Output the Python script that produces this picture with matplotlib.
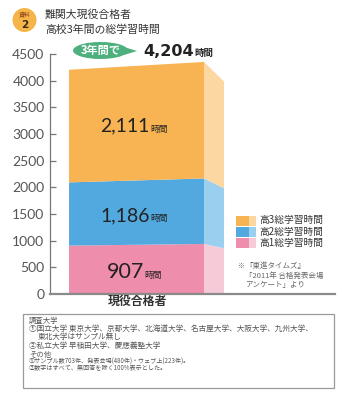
import matplotlib
matplotlib.use("Agg")
import matplotlib.pyplot as plt
from matplotlib.patches import Ellipse, Polygon, Rectangle
import matplotlib.transforms as mtransforms

plt.rcParams['font.family'] = ['Noto Sans CJK JP', 'DejaVu Sans']

# ---- data ----
category = "現役合格者"
series_names = ["高1総学習時間", "高2総学習時間", "高3総学習時間"]
series_values = [907, 1186, 2111]
total_hours = 4204
value_labels = ["907", "1,186", "2,111"]
yticks = [0, 500, 1000, 1500, 2000, 2500, 3000, 3500, 4000, 4500]

front_colors = ["#EE8DAC", "#52A9DF", "#F8B352"]
side_colors = ["#F7CAD8", "#9BCFEF", "#FDD7A2"]

W, H = 345, 400
fig = plt.figure(figsize=(W / 100, H / 100), dpi=100)
fig.patch.set_facecolor("white")

def fx(px):
    return px / W

def fy(py):
    return 1 - py / H

# main axes: spine at x=50px, 0 at y=294px, 4500 at y=54px
ax = fig.add_axes([fx(50), fy(294), fx(335) - fx(50), fy(54) - fy(294)])
ax.set_xlim(-0.641, 1.47)
ax.set_ylim(0, 4500)
ax.set_facecolor("none")

# perspective factors (style only)
k_front = 1.035
k_side = 0.915
x0, x1 = -0.5, 0.5
x2 = x1 + 0.148

bottom = 0
for i, v in enumerate(series_values):
    lo, hi = bottom, bottom + v
    front = Polygon([(x0, lo), (x1, lo * k_front), (x1, hi * k_front), (x0, hi)],
                    closed=True, facecolor=front_colors[i], edgecolor="none", zorder=2)
    side = Polygon([(x1, lo * k_front), (x2, lo * k_front * k_side),
                    (x2, hi * k_front * k_side), (x1, hi * k_front)],
                   closed=True, facecolor=side_colors[i], edgecolor="none", zorder=2)
    ax.add_patch(front)
    ax.add_patch(side)
    bottom = hi

renderer = fig.canvas.get_renderer()

def num_label(xc, y, num, numsize, unitsize, weight="normal", color="#222222"):
    t1 = ax.text(0, 0, num, fontsize=numsize, fontweight=weight, color=color,
                 family=['Lato', 'DejaVu Sans'], va="baseline", ha="left", zorder=5)
    t2 = ax.text(0, 0, "時間", fontsize=unitsize, color=color, va="baseline", ha="left",
                 zorder=5)
    w1 = t1.get_window_extent(renderer).width
    w2 = t2.get_window_extent(renderer).width
    total = w1 + w2
    t1.set_position((xc, y))
    t2.set_position((xc, y))
    t1.set_transform(mtransforms.offset_copy(ax.transData, fig=fig, x=-total / 2, y=0, units="dots"))
    t2.set_transform(mtransforms.offset_copy(ax.transData, fig=fig, x=-total / 2 + w1 + 1, y=0, units="dots"))

bottom = 0
label_sizes = [15.5, 14, 14]
for i, v in enumerate(series_values):
    lo, hi = bottom, bottom + v
    yc = (lo + hi) * (1 + k_front) / 4
    num_label(-0.02, yc - 160, value_labels[i], label_sizes[i], 6.3)
    bottom = hi

# axes styling
for s in ["top", "right"]:
    ax.spines[s].set_visible(False)
ax.spines["left"].set_color("#777777")
ax.spines["left"].set_linewidth(0.9)
ax.spines["bottom"].set_color("#8a8a8a")
ax.spines["bottom"].set_linewidth(1.6)
ax.set_yticks(yticks)
ax.set_yticklabels([str(t) for t in yticks], family=['Lato', 'DejaVu Sans'])
ax.tick_params(axis="y", direction="in", length=4, width=0.9, color="#777777",
               labelsize=10, labelcolor="#555555", pad=4)
ax.set_xticks([])
ax.yaxis.get_major_ticks()[0].tick1line.set_visible(False)

# category label
fig.text(fx(137), fy(301), category, fontsize=8.6, fontweight="bold", color="#333333",
         ha="center", va="center")

# header badge
badge = Ellipse((fx(24.5), fy(20)), width=24 / W, height=24 / H, transform=fig.transFigure,
                facecolor="#F6B548", edgecolor="none")
fig.patches.append(badge)
fig.text(fx(24.5), fy(14.5), "資料", fontsize=4.3, color="#8B3A1E", ha="center", va="center")
fig.text(fx(24.5), fy(25.5), "2", fontsize=7.5, fontweight="bold", color="#3a2a1a",
         ha="center", va="center", family=['DejaVu Sans'])

fig.text(fx(45), fy(15), "難関大現役合格者", fontsize=7.8, color="#333333", ha="left", va="center")
fig.text(fx(45), fy(30), "高校3年間の総学習時間", fontsize=7.8, color="#333333", ha="left", va="center")

# green speech bubble
green = "#4FB07F"
bubble = Ellipse((fx(100.5), fy(50.5)), width=55 / W, height=17 / H, transform=fig.transFigure,
                 facecolor=green, edgecolor="none")
fig.patches.append(bubble)
tail = Polygon([(fx(124), fy(47)), (fx(137), fy(51)), (fx(124), fy(55))], closed=True,
               transform=fig.transFigure, facecolor=green, edgecolor="none")
fig.patches.append(tail)
fig.text(fx(101), fy(50.5), "3年間で", fontsize=8, fontweight="bold", color="white",
         ha="center", va="center")

# total label
t_num = fig.text(fx(143), fy(56), f"{total_hours:,}", fontsize=11.5, fontweight="bold",
                 color="#222222", ha="left", va="baseline", family=['DejaVu Sans'])
wnum = t_num.get_window_extent(renderer).width
fig.text(fx(143 + wnum + 1), fy(56), "時間", fontsize=6.8, fontweight="bold", color="#222222",
         ha="left", va="baseline")

# legend
leg_rows = [(2, 220.5), (1, 231.5), (0, 243)]
for idx, yrow in leg_rows:
    r1 = Rectangle((fx(236), fy(yrow + 5)), 13 / W, 10 / H, transform=fig.transFigure,
                   facecolor=front_colors[idx], edgecolor="none")
    r2 = Rectangle((fx(249), fy(yrow + 5)), 7 / W, 10 / H, transform=fig.transFigure,
                   facecolor=side_colors[idx], edgecolor="none")
    fig.patches.extend([r1, r2])
    fig.text(fx(259), fy(yrow), series_names[idx], fontsize=7, color="#333333",
             ha="left", va="center")

# source note
fig.text(fx(237), fy(266), "※", fontsize=5, color="#666666", ha="left", va="center")
fig.text(fx(245), fy(266), "『東進タイムズ』", fontsize=5.4, color="#666666", ha="left", va="center")
fig.text(fx(245), fy(276), "「2011年 合格発表会場", fontsize=5.4, color="#666666", ha="left", va="center")
fig.text(fx(245), fy(285), "アンケート」より", fontsize=5.4, color="#666666", ha="left", va="center")

# bottom info box
box = Rectangle((fx(23), fy(388)), (334 - 23) / W, (388 - 314) / H, transform=fig.transFigure,
                facecolor="white", edgecolor="#9a9a9a", linewidth=0.9)
fig.patches.append(box)
note_color = "#555555"
fig.text(fx(29), fy(320.5), "調査大学", fontsize=5.3, color=note_color, ha="left", va="center")
fig.text(fx(29), fy(329), "①国立大学 東京大学、京都大学、北海道大学、名古屋大学、大阪大学、九州大学、",
         fontsize=5.5, color=note_color, ha="left", va="center")
fig.text(fx(38), fy(337.5), "東北大学はサンプル無し", fontsize=5.5, color=note_color, ha="left", va="center")
fig.text(fx(29), fy(346), "②私立大学 早稲田大学、慶應義塾大学", fontsize=5.5, color=note_color,
         ha="left", va="center")
fig.text(fx(29), fy(355), "その他", fontsize=5.3, color=note_color, ha="left", va="center")
fig.text(fx(29), fy(362), "①サンプル数703件、発表会場(480件)・ウェブ上(223件)。", fontsize=4.4,
         color=note_color, ha="left", va="center")
fig.text(fx(29), fy(368.5), "②数字はすべて、無回答を除く100%表示とした。", fontsize=4.4,
         color=note_color, ha="left", va="center")

fig.savefig("out.png", dpi=100, facecolor="white")
